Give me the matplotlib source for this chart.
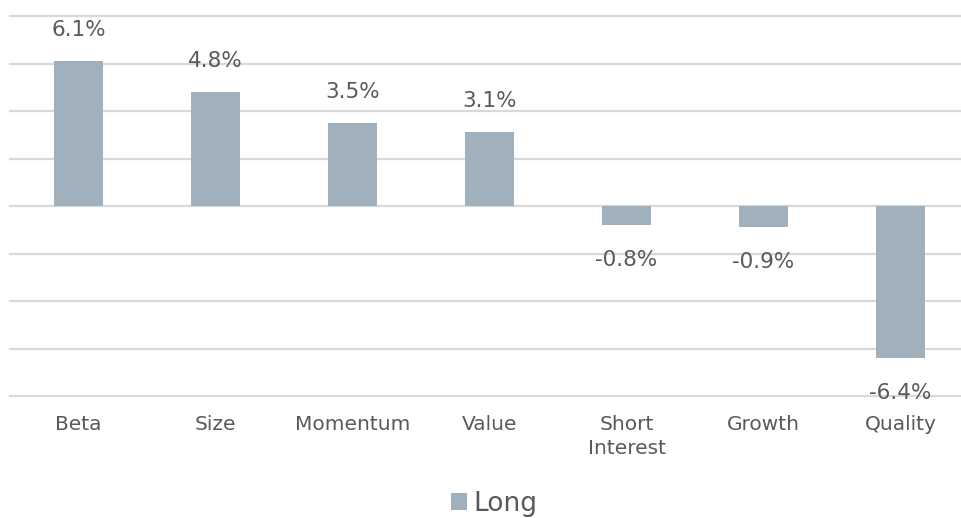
import matplotlib
matplotlib.use("Agg")
import matplotlib.pyplot as plt
from matplotlib.patches import Patch

categories = ["Beta", "Size", "Momentum", "Value", "Short\nInterest", "Growth", "Quality"]
values = [6.1, 4.8, 3.5, 3.1, -0.8, -0.9, -6.4]
labels = ["6.1%", "4.8%", "3.5%", "3.1%", "-0.8%", "-0.9%", "-6.4%"]
series_name = "Long"

bar_color = "#a0b0bd"
text_color = "#595959"
grid_color = "#d9d9d9"

plt.rcParams["font.family"] = ["DejaVu Sans"]

fig = plt.figure(figsize=(9.61, 5.18), dpi=100)
W, H = 961, 518
ax = fig.add_axes([10 / W, (H - 396) / H, (961 - 10) / W, (396 - 16) / H])

x = list(range(len(categories)))
ax.bar(x, values, width=0.36, color=bar_color, zorder=3)

ax.set_xlim(-0.5, -0.5 + 951 / 137)
ax.set_ylim(-8, 8)
ax.set_yticks([-8, -6, -4, -2, 0, 2, 4, 6, 8])
ax.yaxis.grid(True, color=grid_color, linewidth=1.6, zorder=0)
for gl in ax.get_ygridlines():
    gl.set_clip_on(False)
ax.tick_params(axis="y", left=False, labelleft=False)
ax.set_xticks(x)
ax.set_xticklabels(categories, fontsize=14.5, color=text_color, linespacing=1.3)
ax.tick_params(axis="x", length=0, pad=14)
for s in ax.spines.values():
    s.set_visible(False)

for xi, v, lab in zip(x, values, labels):
    if v >= 0:
        ax.annotate(lab, (xi, v), xytext=(0, 31), textcoords="offset pixels",
                    ha="center", va="center", fontsize=15.5, color=text_color, zorder=4)
    else:
        ax.annotate(lab, (xi, v), xytext=(0, -35), textcoords="offset pixels",
                    ha="center", va="center", fontsize=15.5, color=text_color, zorder=4)

handles = [Patch(facecolor=bar_color, edgecolor="none", label=series_name)]
fig.legend(handles=handles, loc="center", bbox_to_anchor=(494 / W, (H - 504) / H),
           frameon=False, fontsize=19, handlelength=0.6, handleheight=0.6,
           handletextpad=0.25, labelcolor=text_color)

fig.savefig("out.png", dpi=100)
